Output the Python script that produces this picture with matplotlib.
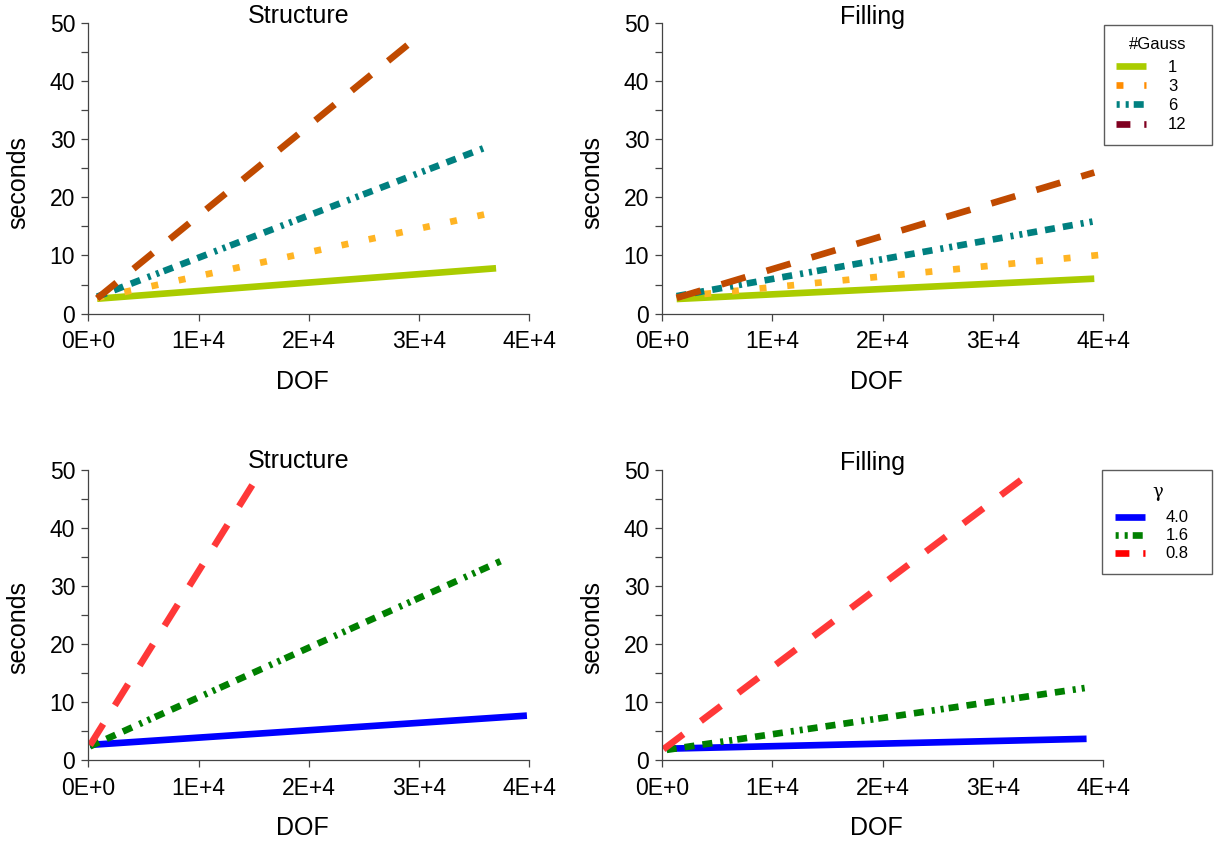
import matplotlib
matplotlib.use('Agg')
import matplotlib.pyplot as plt
from matplotlib.lines import Line2D
from matplotlib.ticker import MultipleLocator

plt.rcParams['font.family'] = ['Liberation Sans', 'DejaVu Sans']
plt.rcParams['lines.scale_dashes'] = False

# DOF vs. seconds, top row: number of Gauss points
gauss_labels = ['1', '3', '6', '12']
struct_dof = [800, 37000]
struct_dof_g6 = [800, 36300]
struct_dof_g12 = [800, 29700]
struct_g1 = [2.55, 7.8]
struct_g3 = [2.7, 17.5]
struct_g6 = [2.9, 28.8]
struct_g12 = [2.6, 47.4]

fill_dof = [1300, 39200]
fill_dof_g3 = [1300, 40800]
fill_g1 = [2.5, 6.0]
fill_g3 = [2.9, 10.3]
fill_g6 = [3.0, 15.9]
fill_g12 = [2.7, 24.3]

# bottom row: gamma
gamma_labels = ['4.0', '1.6', '0.8']
struct_dof_gam = [150, 39800]
struct_dof_gam16 = [150, 37400]
struct_dof_gam08 = [150, 15000]
struct_gam40 = [2.65, 7.7]
struct_gam16 = [2.4, 34.3]
struct_gam08 = [2.6, 47.8]

fill_dof_gam = [400, 38500]
fill_dof_gam08 = [100, 32900]
fill_gam40 = [2.0, 3.7]
fill_gam16 = [1.8, 12.5]
fill_gam08 = [1.9, 48.8]

xtick_labels = ['0E+0', '1E+4', '2E+4', '3E+4', '4E+4']

LW = 4.8
dashed = (0, (18, 15.8))
dotted = (0, (5, 15))
dash3dot2 = (0, (7.2, 5.8, 7.2, 5.8, 7.2, 5.8, 2.2, 4.3, 2.2, 3.6))
# legend handles use shorter patterns
leg_dashed = (0, (10, 10))
leg_dotted = (0, (5, 15))
leg_dash3dot2 = (38.9, (7.2, 5.8, 7.2, 5.8, 7.2, 5.8, 2.2, 4.3, 2.2, 3.6))

fig = plt.figure(figsize=(12.15, 8.46), dpi=100)
W = 0.3628
H = 0.3430
ax_tl = fig.add_axes([0.0727, 0.6294, W, H])
ax_tr = fig.add_axes([0.5451, 0.6294, W, H])
ax_bl = fig.add_axes([0.0727, 0.1013, W, H])
ax_br = fig.add_axes([0.5451, 0.1013, W, H])


def style_axes(ax, title, title_y, ylab_y, xlab_y):
    ax.set_xlim(0, 40000)
    ax.set_ylim(0, 50)
    for s in ['top', 'right']:
        ax.spines[s].set_visible(False)
    for s in ['left', 'bottom']:
        ax.spines[s].set_color('#444444')
        ax.spines[s].set_linewidth(0.9)
    ax.set_xticks([0, 10000, 20000, 30000, 40000])
    ax.set_xticklabels(xtick_labels)
    ax.yaxis.set_major_locator(MultipleLocator(10))
    ax.yaxis.set_minor_locator(MultipleLocator(5))
    ax.tick_params(axis='both', which='both', direction='out', length=5,
                   width=0.9, color='#444444', labelsize=16.5)
    ax.tick_params(axis='y', pad=4.5)
    ax.tick_params(axis='x', pad=7)
    ax.set_ylabel('seconds', fontsize=18, va='center')
    ax.yaxis.set_label_coords(-0.1595, ylab_y)
    ax.set_xlabel('DOF', fontsize=18, va='center')
    ax.xaxis.set_label_coords(0.486, xlab_y)
    ax.text(0.476, title_y, title, transform=ax.transAxes, ha='center',
            va='center', fontsize=18)


# Structure, Gauss points
ax_tl.plot(struct_dof, struct_g1, color='#aacc00', lw=LW, solid_capstyle='butt')
ax_tl.plot(struct_dof, struct_g3, color='#ffb423', lw=LW, ls=dotted)
ax_tl.plot(struct_dof_g6, struct_g6, color='#008080', lw=LW, ls=dash3dot2)
ax_tl.plot(struct_dof_g12, struct_g12, color='#c04a00', lw=LW, ls=dashed)
style_axes(ax_tl, 'Structure', 1.026, 0.453, -0.236)

# Filling, Gauss points
ax_tr.plot(fill_dof, fill_g1, color='#aacc00', lw=LW, solid_capstyle='butt')
ax_tr.plot(fill_dof_g3, fill_g3, color='#ffb423', lw=LW, ls=dotted, clip_on=False)
ax_tr.plot(fill_dof, fill_g6, color='#008080', lw=LW, ls=dash3dot2)
ax_tr.plot(fill_dof, fill_g12, color='#c04a00', lw=LW, ls=dashed)
style_axes(ax_tr, 'Filling', 1.022, 0.453, -0.236)

# Structure, gamma
ax_bl.plot(struct_dof_gam, struct_gam40, color='#0000ff', lw=LW, solid_capstyle='butt')
ax_bl.plot(struct_dof_gam16, struct_gam16, color='#008000', lw=LW, ls=dash3dot2)
ax_bl.plot(struct_dof_gam08, struct_gam08, color='#ff3838', lw=LW, ls=dashed)
style_axes(ax_bl, 'Structure', 1.033, 0.456, -0.233)

# Filling, gamma
ax_br.plot(fill_dof_gam, fill_gam40, color='#0000ff', lw=LW, solid_capstyle='butt')
ax_br.plot(fill_dof_gam, fill_gam16, color='#008000', lw=LW, ls=dash3dot2)
ax_br.plot(fill_dof_gam08, fill_gam08, color='#ff3838', lw=LW, ls=dashed)
style_axes(ax_br, 'Filling', 1.023, 0.456, -0.233)

gauss_handles = [
    Line2D([], [], color='#aacc00', lw=LW, solid_capstyle='butt'),
    Line2D([], [], color='#ff8c00', lw=LW, ls=leg_dotted),
    Line2D([], [], color='#008080', lw=LW, ls=leg_dash3dot2),
    Line2D([], [], color='#800020', lw=LW, ls=leg_dashed),
]
gamma_handles = [
    Line2D([], [], color='#0000ff', lw=LW, solid_capstyle='butt'),
    Line2D([], [], color='#008000', lw=LW, ls=leg_dash3dot2),
    Line2D([], [], color='#ff0000', lw=LW, ls=leg_dashed),
]

leg1 = ax_tr.legend(gauss_handles, gauss_labels, title='#Gauss',
                    loc='upper left', bbox_to_anchor=(1.002, 0.995, 0.245, 0.0),
                    mode='expand', borderaxespad=0, fontsize=12,
                    title_fontsize=12, handlelength=1.8, handletextpad=1.3,
                    labelspacing=0.25, borderpad=0.75, fancybox=False)
leg1.get_frame().set_edgecolor('#333333')
leg1.get_frame().set_linewidth(1.0)
leg1._legend_box.sep = 5.5

leg2 = ax_br.legend(gamma_handles, gamma_labels, title='γ',
                    loc='upper left', bbox_to_anchor=(0.998, 1.0, 0.25, 0.0),
                    mode='expand', borderaxespad=0, fontsize=12,
                    title_fontsize=13, handlelength=1.8, handletextpad=1.25,
                    labelspacing=0.18, borderpad=0.75, fancybox=False)
leg2.get_frame().set_edgecolor('#333333')
leg2.get_frame().set_linewidth(1.0)
leg2.get_title().set_family('DejaVu Serif')
leg2._legend_box.sep = 7

fig.savefig('out.png', dpi=100)
